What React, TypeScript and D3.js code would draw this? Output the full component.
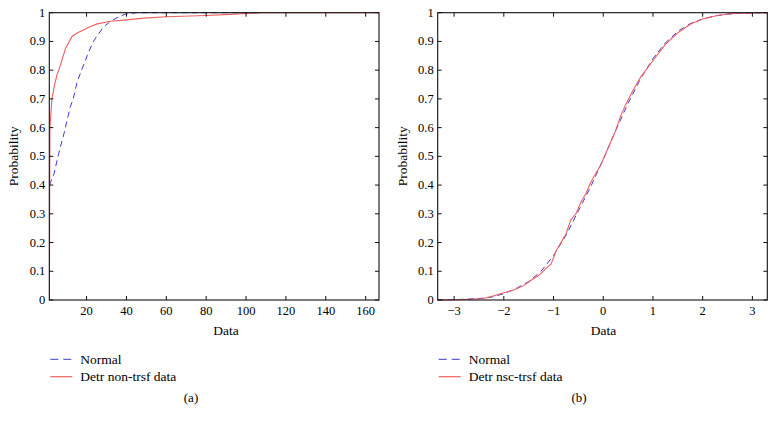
import React from 'react';
import * as d3 from 'd3';

// Panel (a): fitted normal CDF vs empirical CDF of the raw data
const normalA: [number, number][] = [
  [1.4, 0.40], [3.7, 0.44], [6, 0.51], [8.7, 0.58], [11.7, 0.67], [13.3, 0.70],
  [15.3, 0.76], [17.5, 0.80], [20.3, 0.85], [23, 0.895], [25.3, 0.92], [28.5, 0.95],
  [32, 0.97], [36, 0.985], [39.5, 0.995], [45, 1.0], [108, 1.0],
];
const empiricalA: [number, number][] = [
  [1.3, 0.0], [1.4, 0.13], [1.6, 0.6], [2.6, 0.70], [3.7, 0.74], [5, 0.78],
  [7, 0.82], [9.5, 0.877], [12.8, 0.918], [15.5, 0.93], [18.7, 0.941], [22, 0.952],
  [25.3, 0.961], [32, 0.97], [40, 0.975], [48.7, 0.981], [60, 0.986], [80, 0.99],
  [91.7, 0.994], [108, 1.0], [167, 1.0],
];

// Panel (b): normal CDF vs empirical CDF of the transformed data
const normalB: [number, number][] = [
  [-3.33, 0.0], [-3.0, 0.001], [-2.5, 0.005], [-2.25, 0.01], [-2.0, 0.022],
  [-1.75, 0.04], [-1.5, 0.064], [-1.25, 0.1], [-1.0, 0.155], [-0.75, 0.225],
  [-0.5, 0.31], [-0.25, 0.395], [0, 0.49], [0.25, 0.59], [0.5, 0.685],
  [0.75, 0.77], [1.0, 0.84], [1.25, 0.895], [1.5, 0.935], [1.75, 0.962],
  [2.0, 0.978], [2.25, 0.989], [2.5, 0.995], [2.75, 0.998], [3.0, 0.999], [3.3, 1.0],
];
const empiricalB: [number, number][] = [
  [-3.33, 0.0], [-2.8, 0.002], [-2.4, 0.005], [-2.2, 0.015], [-2.0, 0.025],
  [-1.8, 0.035], [-1.6, 0.05], [-1.4, 0.075], [-1.3, 0.085], [-1.15, 0.11],
  [-1.05, 0.125], [-0.95, 0.17], [-0.85, 0.2], [-0.75, 0.23], [-0.65, 0.28],
  [-0.55, 0.3], [-0.45, 0.34], [-0.35, 0.37], [-0.25, 0.41], [-0.15, 0.44],
  [-0.05, 0.47], [0.05, 0.51], [0.15, 0.55], [0.25, 0.59], [0.35, 0.64],
  [0.45, 0.68], [0.6, 0.73], [0.75, 0.775], [0.9, 0.81], [1.05, 0.845],
  [1.25, 0.89], [1.5, 0.93], [1.75, 0.96], [2.0, 0.978], [2.3, 0.99],
  [2.6, 0.997], [3.3, 1.0],
];

const yTicks = [0, 0.1, 0.2, 0.3, 0.4, 0.5, 0.6, 0.7, 0.8, 0.9, 1];
const xTicksA = [20, 40, 60, 80, 100, 120, 140, 160];
const xTicksB = [-3, -2, -1, 0, 1, 2, 3];

const FONT = '"Liberation Serif", "DejaVu Serif", serif';
const RED = '#ef5f5f';
const BLUE = '#3b3bcf';

interface PanelProps {
  id: string;
  left: number;
  right: number;
  xDomain: [number, number];
  xTicks: number[];
  normal: [number, number][];
  empirical: [number, number][];
  empiricalLabel: string;
  caption: string;
  captionX: number;
  xLabelX: number;
  yLabelX: number;
}

const TOP = 12.7;
const BOTTOM = 300;

const fmt = (v: number) => (v === 0 ? '0' : v === 1 ? '1' : d3.format('.1f')(v));

const Panel: React.FC<PanelProps> = ({
  id, left, right, xDomain, xTicks, normal, empirical, empiricalLabel, caption, captionX, xLabelX, yLabelX,
}) => {
  const x = d3.scaleLinear().domain(xDomain).range([left, right]);
  const y = d3.scaleLinear().domain([0, 1]).range([BOTTOM, TOP]);
  const line = d3.line<[number, number]>().x(d => x(d[0])).y(d => y(d[1]));
  const tl = 4;
  const legX = left + 1;
  return (
    <g>
      <defs>
        <clipPath id={id}>
          <rect x={left} y={TOP - 1} width={right - left} height={BOTTOM - TOP + 2} />
        </clipPath>
      </defs>
      <g clipPath={`url(#${id})`}>
        <path d={line(normal) || ''} fill="none" stroke={BLUE} strokeWidth={1} strokeDasharray="6,4" />
        <path d={line(empirical) || ''} fill="none" stroke={RED} strokeWidth={1.1} />
      </g>
      <rect x={left} y={TOP} width={right - left} height={BOTTOM - TOP} fill="none" stroke="#111" strokeWidth={1.1} />
      {xTicks.map(t => (
        <g key={`x${t}`}>
          <line x1={x(t)} x2={x(t)} y1={BOTTOM} y2={BOTTOM - tl} stroke="#111" />
          <line x1={x(t)} x2={x(t)} y1={TOP} y2={TOP + tl} stroke="#111" />
          <text x={x(t)} y={315} textAnchor="middle" fontSize={12.5} fontFamily={FONT}>
            {t < 0 ? `\u2212${Math.abs(t)}` : t}
          </text>
        </g>
      ))}
      {yTicks.map(t => (
        <g key={`y${t}`}>
          <line x1={left} x2={left + tl} y1={y(t)} y2={y(t)} stroke="#111" />
          <line x1={right} x2={right - tl} y1={y(t)} y2={y(t)} stroke="#111" />
          <text x={left - 4} y={y(t) + 4} textAnchor="end" fontSize={12.5} fontFamily={FONT}>
            {fmt(t)}
          </text>
        </g>
      ))}
      <text x={xLabelX} y={335} textAnchor="middle" fontSize={13.5} fontFamily={FONT}>Data</text>
      <text transform={`translate(${yLabelX},${(TOP + BOTTOM) / 2}) rotate(-90)`} textAnchor="middle"
        fontSize={13.5} fontFamily={FONT}>Probability</text>
      <line x1={legX} x2={legX + 22} y1={359.3} y2={359.3} stroke={BLUE} strokeWidth={1} strokeDasharray="8,5" />
      <text x={legX + 30} y={363.5} fontSize={13.5} fontFamily={FONT}>Normal</text>
      <line x1={legX} x2={legX + 22} y1={376.7} y2={376.7} stroke={RED} strokeWidth={1.2} />
      <text x={legX + 30} y={381} fontSize={13.5} fontFamily={FONT}>{empiricalLabel}</text>
      <text x={captionX} y={402} textAnchor="middle" fontSize={13} fontFamily={FONT}>{caption}</text>
    </g>
  );
};

export default function App() {
  return (
    <svg width={776} height={424} style={{ position: 'absolute', left: 0, top: 0, background: '#fff' }}>
      <Panel id="clipA" left={49.3} right={379} xDomain={[1.3, 166.7]} xTicks={xTicksA}
        normal={normalA} empirical={empiricalA} empiricalLabel="Detr non-trsf data" caption="(a)"
        captionX={191} xLabelX={226} yLabelX={18} />
      <Panel id="clipB" left={437.7} right={767.3} xDomain={[-3.33, 3.3]} xTicks={xTicksB}
        normal={normalB} empirical={empiricalB} empiricalLabel="Detr nsc-trsf data" caption="(b)"
        captionX={579} xLabelX={603.5} yLabelX={407} />
    </svg>
  );
}
